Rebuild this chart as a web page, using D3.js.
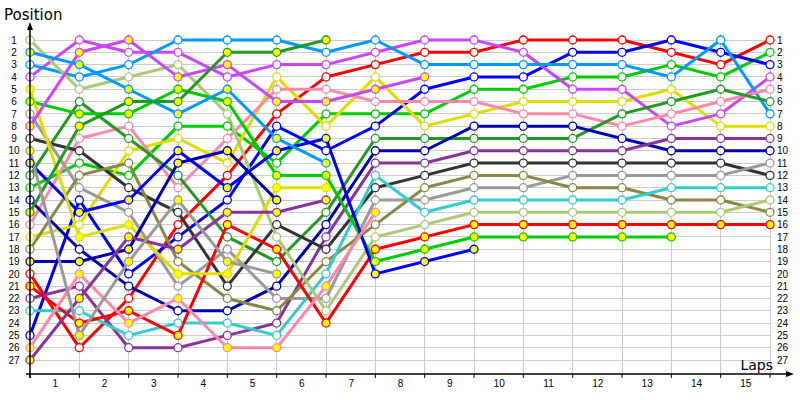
<!DOCTYPE html>
<html><head><meta charset="utf-8">
<script src="https://cdn.jsdelivr.net/npm/d3@7"></script>
<style>
html,body{margin:0;padding:0;background:#fff;}
svg{display:block;font-family:"DejaVu Sans",Verdana,sans-serif;}
</style></head>
<body><svg id="c" width="800" height="400"></svg>
<script>
// ---------- data ----------
const laps = d3.range(0, 16);
const lapLabels = ["1","2","3","4","5","6","7","8","9","10","11","12","13","14","15"];
const positions = d3.range(1, 28);

// white-marker drivers
const red        = [20,26,22,16,12,7,4,3,2,2,1,1,1,2,3,1];
const green      = [13,11,12,8,8,11,7,7,7,5,5,4,4,3,4,2];
const blue       = [25,14,20,17,14,8,10,8,5,4,4,2,2,1,2,3];
const yellow     = [17,16,10,9,11,4,8,4,8,7,6,6,6,5,8,8];
const violet     = [4,1,2,2,4,3,3,2,1,1,2,5,5,8,7,4];
const lightblue  = [3,4,3,1,1,1,2,1,3,3,3,3,3,4,1,7];
const pink       = [16,9,8,13,9,5,5,6,6,6,7,7,8,7,6,5];
const darkgreen  = [12,6,9,12,17,19,15,9,9,9,9,9,7,6,5,6];
const darkblue   = [14,18,21,23,23,21,16,10,10,8,8,8,9,10,10,10];
const purple     = [22,21,26,26,25,24,17,11,11,10,10,10,10,9,9,9];
const darkgray   = [9,10,13,15,21,16,18,13,12,11,11,11,11,11,11,12];
const gray       = [7,13,15,21,18,22,22,14,14,13,13,12,12,12,12,11];
const olive      = [18,12,11,19,22,23,19,16,13,12,12,13,13,14,14,15];
const cyan       = [23,23,25,24,24,25,20,12,15,14,14,14,14,13,13,13];
const lightolive = [1,5,4,3,7,17,23,17,16,15,15,15,15,15,15,14];
// yellow-marker drivers
const red2        = [21,24,23,25,16,18,24,18,17,16,16,16,16,16,16,16];
const green2      = [6,7,7,5,6,12,12,19,18,17,17,17,17,17];
const blue2       = [11,15,14,10,13,10,9,20,19,18];
const yellow2     = [5,17,16,20,20,13,13];
const violet2     = [8,2,1,4,3,6,6,5,4];
const lightblue2  = [2,3,5,7,5,9,11];
const pink2       = [26,20,24,22,26,26,21,15];
const darkgreen2  = [15,8,6,6,2,2,1];
const darkblue2   = [19,19,18,11,10,14];
const purple2     = [27,22,17,18,15,15,14];
const gray2       = [10,25,19,14,19,20];

const series = [
  {v:red, c:"#ff0000", f:"#fff"}, {v:green, c:"#00cc00", f:"#fff"},
  {v:blue, c:"#0000ff", f:"#fff"}, {v:yellow, c:"#dddd00", f:"#fff"},
  {v:violet, c:"#cc44ff", f:"#fff"}, {v:lightblue, c:"#0099ff", f:"#fff"},
  {v:pink, c:"#ff88aa", f:"#fff"}, {v:darkgreen, c:"#229922", f:"#fff"},
  {v:darkblue, c:"#0000b0", f:"#fff"}, {v:purple, c:"#883399", f:"#fff"},
  {v:darkgray, c:"#333333", f:"#fff"}, {v:gray, c:"#999999", f:"#fff"},
  {v:olive, c:"#888844", f:"#fff"}, {v:cyan, c:"#33cccc", f:"#fff"},
  {v:lightolive, c:"#aac877", f:"#fff"},
  {v:red2, c:"#ff0000", f:"#ffff00"}, {v:green2, c:"#00cc00", f:"#ffff00"},
  {v:blue2, c:"#0000ff", f:"#ffff00"}, {v:yellow2, c:"#dddd00", f:"#ffff00"},
  {v:violet2, c:"#cc44ff", f:"#ffff00"}, {v:lightblue2, c:"#0099ff", f:"#ffff00"},
  {v:pink2, c:"#ff88aa", f:"#ffff00"}, {v:darkgreen2, c:"#229922", f:"#ffff00"},
  {v:darkblue2, c:"#0000b0", f:"#ffff00"}, {v:purple2, c:"#883399", f:"#ffff00"},
  {v:gray2, c:"#999999", f:"#ffff00"}
];

// ---------- layout ----------
const svg = d3.select("#c");
const x = d3.scaleLinear().domain([0, 15]).range([30, 770]);
const y = d3.scaleLinear().domain([1, 27]).range([40, 360]);
const axisY = 374;

// grid
const grid = svg.append("g").attr("stroke", "#cccccc").attr("stroke-width", 1).attr("shape-rendering","crispEdges");
grid.selectAll("line.h").data(positions).join("line").attr("class","h")
  .attr("x1", x(0)).attr("x2", x(15)).attr("y1", d => y(d)).attr("y2", d => y(d));
grid.selectAll("line.v").data(laps.slice(1)).join("line").attr("class","v")
  .attr("x1", d => x(d)).attr("x2", d => x(d)).attr("y1", 34).attr("y2", axisY);

// lines
const line = d3.line().defined(d => d != null).x((d, i) => x(i)).y(d => y(d));
const gl = svg.append("g");
series.forEach(s => {
  gl.append("path").attr("d", line(s.v)).attr("fill", "none")
    .attr("stroke", s.c).attr("stroke-width", 3).attr("stroke-linejoin","round");
});
// markers
const gm = svg.append("g");
series.forEach(s => {
  gm.selectAll(null).data(s.v.map((p, i) => ({p, i}))).join("circle")
    .attr("cx", d => x(d.i)).attr("cy", d => y(d.p)).attr("r", 4)
    .attr("fill", s.f).attr("stroke", s.c).attr("stroke-width", 1.3);
});

// axes
const yl = svg.append("g").attr("transform", `translate(${x(0)},0)`)
  .call(d3.axisLeft(y).tickValues(positions).tickSize(0).tickPadding(10).tickFormat(d3.format("d")));
yl.select(".domain").remove();
yl.selectAll("text").attr("text-anchor","middle").attr("x",-16).attr("font-size", 10).attr("fill","#000");

const yr = svg.append("g").attr("transform", `translate(${x(15)},0)`)
  .call(d3.axisRight(y).tickValues(positions).tickSize(0).tickPadding(7).tickFormat(d3.format("d")));
yr.select(".domain").remove();
yr.selectAll("text").attr("font-size", 10).attr("fill","#000");

const xb = svg.append("g").attr("transform", `translate(0,${axisY})`)
  .call(d3.axisBottom(x).tickValues(lapLabels.map((l, i) => i + 0.5)).tickSize(0).tickPadding(6)
    .tickFormat((d, i) => lapLabels[i]));
xb.select(".domain").remove();
xb.selectAll("text").attr("font-size", 10).attr("fill","#000");
// tick marks at lap boundaries
svg.append("g").selectAll("line").data(laps).join("line")
  .attr("x1", d => x(d)).attr("x2", d => x(d)).attr("y1", axisY).attr("y2", axisY + 4)
  .attr("stroke", "#000");

// axis lines with arrows
svg.append("line").attr("x1", x(0)).attr("x2", x(0)).attr("y1", 24).attr("y2", axisY + 4).attr("stroke","#000").attr("stroke-width",1.5);
svg.append("path").attr("d", `M${x(0)-3},30 L${x(0)},22 L${x(0)+3},30 Z`).attr("fill","#000");
svg.append("line").attr("x1", x(0)-4).attr("x2", 792).attr("y1", axisY).attr("y2", axisY).attr("stroke","#000").attr("stroke-width",1.5);
svg.append("path").attr("d", `M786,${axisY-3} L794,${axisY} L786,${axisY+3} Z`).attr("fill","#000");

svg.append("text").attr("x", 4).attr("y", 20).attr("font-size", 15).text("Position");
svg.append("text").attr("x", 773).attr("y", 370).attr("text-anchor","end").attr("font-size", 14).text("Laps");
</script></body></html>
